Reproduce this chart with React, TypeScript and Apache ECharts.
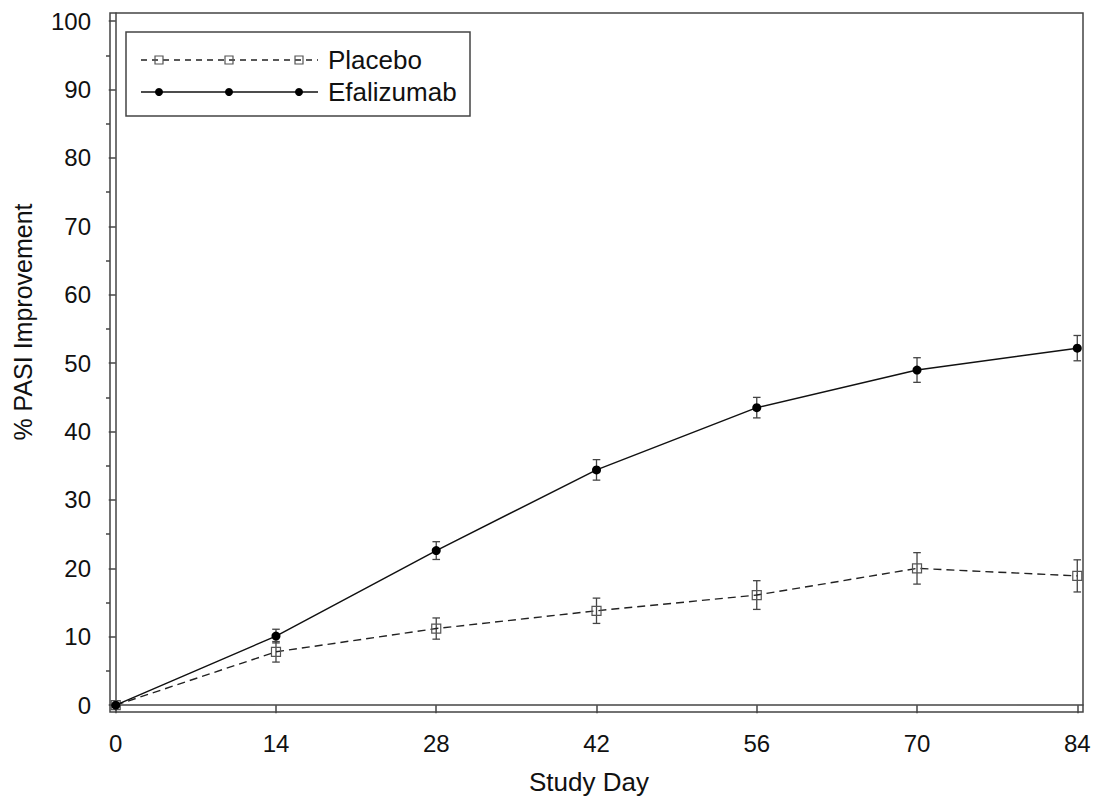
import React, { useEffect, useRef } from "react";
import * as echarts from "echarts";

const days = [0, 14, 28, 42, 56, 70, 84];
const placebo = [0, 7.8, 11.2, 13.8, 16.1, 20.0, 18.9];
const placeboErr = [0, 1.5, 1.55, 1.85, 2.1, 2.3, 2.35];
const efalizumab = [0, 10.1, 22.6, 34.4, 43.5, 49.0, 52.2];
const efalizumabErr = [0, 1.0, 1.3, 1.5, 1.5, 1.8, 1.85];
const yTicks = [0, 10, 20, 30, 40, 50, 60, 70, 80, 90, 100];
const yMinorTicks = [5, 15, 25, 35, 45, 55, 65, 75, 85, 95];
const xTitle = "Study Day";
const yTitle = "% PASI Improvement";
const legendNames = ["Placebo", "Efalizumab"];

const FONT = "Liberation Sans, Arial, sans-serif";

function errorSeries(name: string, vals: number[], errs: number[]) {
  const data = days.map((d, i) => [d, vals[i] - errs[i], vals[i] + errs[i]]);
  return {
    type: "custom",
    name,
    silent: true,
    z: 1,
    data,
    renderItem: (params: any, api: any) => {
      const x = api.value(0);
      const lo = api.coord([x, api.value(1)]);
      const hi = api.coord([x, api.value(2)]);
      const hw = 3.8;
      const style = { stroke: "#444", lineWidth: 1.3 };
      if (Math.abs(hi[1] - lo[1]) < 1) return null;
      return {
        type: "group",
        children: [
          { type: "line", shape: { x1: lo[0], y1: lo[1], x2: hi[0], y2: hi[1] }, style },
          { type: "line", shape: { x1: lo[0] - hw, y1: lo[1], x2: lo[0] + hw, y2: lo[1] }, style },
          { type: "line", shape: { x1: hi[0] - hw, y1: hi[1], x2: hi[0] + hw, y2: hi[1] }, style },
        ],
      };
    },
  };
}

export default function App() {
  const ref = useRef<HTMLDivElement>(null);
  useEffect(() => {
    if (!ref.current) return;
    const chart = echarts.init(ref.current, undefined, { renderer: "svg" });
    const axisLineStyle = { color: "#444", width: 1.5 };
    const legendX = 141;
    const legendMarkers = [159, 229, 299];
    const legendY1 = 60;
    const legendY2 = 92;
    chart.setOption({
      animation: false,
      backgroundColor: "#fff",
      grid: {
        left: 110,
        right: 13,
        top: 13,
        bottom: 87,
        show: true,
        borderColor: "#444",
        borderWidth: 1.5,
        containLabel: false,
      },
      xAxis: {
        type: "value",
        min: -0.5,
        max: 84.5,
        axisLine: { show: true, lineStyle: axisLineStyle },
        axisTick: { show: true, length: 8, lineStyle: axisLineStyle, customValues: days },
        axisLabel: { fontFamily: FONT, fontSize: 24, color: "#111", margin: 19, customValues: days },
        splitLine: { show: false },
      },
      yAxis: [
        {
          type: "value",
          min: -1,
          max: 101.2,
          axisLine: { show: true, lineStyle: axisLineStyle },
          axisTick: { show: true, length: 7, lineStyle: axisLineStyle, customValues: yTicks },
          axisLabel: { fontFamily: FONT, fontSize: 24, color: "#111", margin: 19, customValues: yTicks },
          splitLine: { show: false },
        },
        {
          type: "value",
          min: -1,
          max: 101.2,
          position: "left",
          axisLine: { show: false },
          axisTick: { show: true, length: 4, lineStyle: axisLineStyle, customValues: yMinorTicks },
          axisLabel: { show: false },
          splitLine: { show: false },
        },
      ],
      graphic: [
        {
          type: "text",
          x: 589,
          y: 782,
          style: { text: xTitle, font: `26px ${FONT}`, fill: "#111", align: "center", verticalAlign: "middle" },
        },
        {
          type: "text",
          x: 23,
          y: 322,
          rotation: Math.PI / 2,
          style: { text: yTitle, font: `25px ${FONT}`, fill: "#111", align: "center", verticalAlign: "middle" },
        },
        {
          type: "rect",
          shape: { x: 126, y: 32, width: 344, height: 84 },
          style: { fill: "#fff", stroke: "#444", lineWidth: 1.5 },
          z: 10,
        },
        {
          type: "line",
          shape: { x1: legendX, y1: legendY1, x2: 318, y2: legendY1 },
          style: { stroke: "#222", lineWidth: 1.3, lineDash: [6, 5] },
          z: 11,
        },
        ...legendMarkers.map((mx) => ({
          type: "rect",
          shape: { x: mx - 4, y: legendY1 - 4, width: 8, height: 8 },
          style: { fill: "transparent", stroke: "#555", lineWidth: 1.2 },
          z: 12,
        })),
        {
          type: "line",
          shape: { x1: legendX, y1: legendY2, x2: 318, y2: legendY2 },
          style: { stroke: "#111", lineWidth: 1.5 },
          z: 11,
        },
        ...legendMarkers.map((mx) => ({
          type: "circle",
          shape: { cx: mx, cy: legendY2, r: 4 },
          style: { fill: "#000" },
          z: 12,
        })),
        {
          type: "text",
          x: 328,
          y: legendY1,
          style: { text: legendNames[0], font: `26px ${FONT}`, fill: "#111", verticalAlign: "middle" },
          z: 12,
        },
        {
          type: "text",
          x: 328,
          y: legendY2,
          style: { text: legendNames[1], font: `26px ${FONT}`, fill: "#111", verticalAlign: "middle" },
          z: 12,
        },
      ],
      series: [
        errorSeries("placeboErr", placebo, placeboErr),
        errorSeries("efalizumabErr", efalizumab, efalizumabErr),
        {
          type: "line",
          name: legendNames[0],
          data: days.map((d, i) => [d, placebo[i]]),
          symbol: "rect",
          symbolSize: 9,
          z: 3,
          lineStyle: { color: "#222", width: 1.4, type: [8, 5] },
          itemStyle: { color: "transparent", borderColor: "#555", borderWidth: 1.2 },
        },
        {
          type: "line",
          name: legendNames[1],
          data: days.map((d, i) => [d, efalizumab[i]]),
          symbol: "circle",
          symbolSize: 9,
          z: 4,
          lineStyle: { color: "#111", width: 1.5 },
          itemStyle: { color: "#000" },
        },
      ],
    });
    return () => chart.dispose();
  }, []);
  return <div ref={ref} style={{ position: "fixed", left: 0, top: 0, width: 1096, height: 799 }} />;
}
